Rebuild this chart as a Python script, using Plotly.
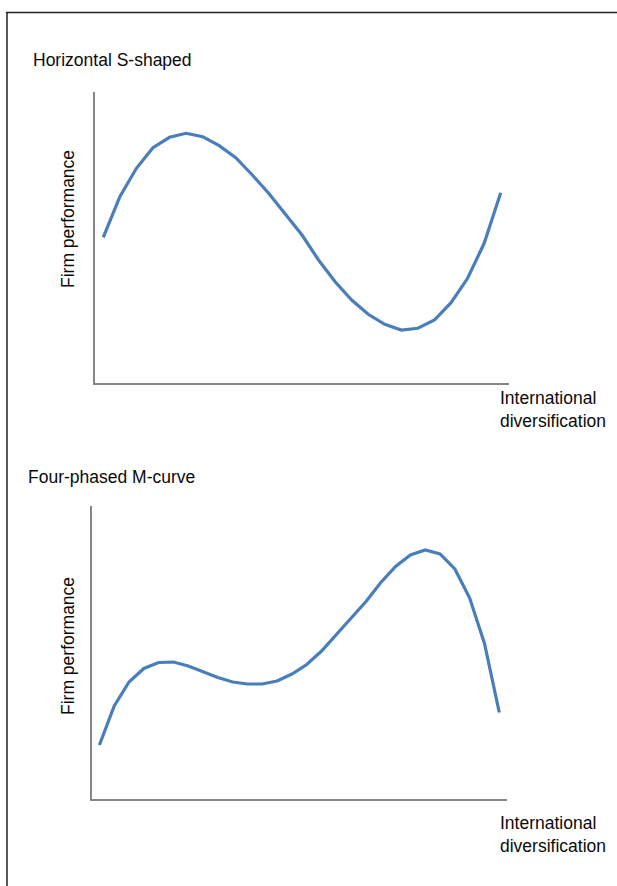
import plotly.graph_objects as go

W, H = 617, 886

# Top panel: horizontal S-shaped (arbitrary performance units)
s_x = list(range(25))
s_y = [145.7, 186.3, 214.7, 235.3, 245.7, 249.7, 246.3, 237.3, 225.3, 208.0,
       189.5, 169.0, 148.0, 123.0, 101.3, 83.0, 68.7, 58.7, 53.0, 54.7,
       63.0, 80.3, 104.7, 139.7, 190.3]

# Bottom panel: four-phased M-curve
m_x = list(range(28))
m_y = [53.5, 92.5, 116.5, 130.0, 136.0, 136.5, 132.5, 127.0, 121.0, 116.5,
       114.5, 114.5, 117.5, 124.5, 134.0, 147.5, 163.5, 180.5, 197.0, 216.0,
       232.0, 243.5, 248.5, 244.5, 229.5, 200.5, 155.0, 86.0]

titles = ["Horizontal S-shaped", "Four-phased M-curve"]
y_label = "Firm performance"
x_label = "International<br>diversification"

BLUE = "#4a7ebb"
AXIS = "#858585"
FONT = "Liberation Sans, Arial, Helvetica, sans-serif"

def px(v):
    return v / W

def py(v):
    return 1 - v / H

fig = go.Figure()
fig.add_trace(go.Scatter(x=s_x, y=s_y, mode="lines", xaxis="x", yaxis="y",
                         line=dict(color=BLUE, width=3.2), hoverinfo="skip"))
fig.add_trace(go.Scatter(x=m_x, y=m_y, mode="lines", xaxis="x2", yaxis="y2",
                         line=dict(color=BLUE, width=3.2), hoverinfo="skip"))

ax_common = dict(showline=True, linecolor=AXIS, linewidth=2, showgrid=False,
                 zeroline=False, showticklabels=False, ticks="", fixedrange=True)

fig.update_layout(
    width=W, height=H, margin=dict(l=0, r=0, t=0, b=0),
    paper_bgcolor="white", plot_bgcolor="white", showlegend=False,
    font=dict(family=FONT, size=17.5, color="#0a0a0a"),
    xaxis=dict(domain=[px(95), px(509)], range=[-0.5, 24.5], anchor="y", **ax_common),
    yaxis=dict(domain=[py(383), py(92)], range=[0, 291], anchor="x", **ax_common),
    xaxis2=dict(domain=[px(92), px(506.7)], range=[-0.5, 27.5], anchor="y2", **ax_common),
    yaxis2=dict(domain=[py(798.5), py(506)], range=[0, 292.5], anchor="x2", **ax_common),
)

ann = []
ann.append(dict(text=titles[0], x=px(31), y=py(60), xanchor="left", yanchor="middle"))
ann.append(dict(text=titles[1], x=px(26), y=py(477), xanchor="left", yanchor="middle"))
ann.append(dict(text=y_label, x=px(68), y=py(219), textangle=-90, xanchor="center", yanchor="middle"))
ann.append(dict(text=y_label, x=px(68), y=py(646), textangle=-90, xanchor="center", yanchor="middle"))
ann.append(dict(text=x_label, x=px(498), y=py(409), xanchor="left", yanchor="middle", align="left"))
ann.append(dict(text=x_label, x=px(498), y=py(834.5), xanchor="left", yanchor="middle", align="left"))
for a in ann:
    a.update(xref="paper", yref="paper", showarrow=False)
fig.update_layout(annotations=ann)

# page frame lines (top and left)
fig.add_shape(type="line", xref="paper", yref="paper", x0=px(6), x1=1.0, y0=py(12.5), y1=py(12.5),
              line=dict(color="#222222", width=1.5))
fig.add_shape(type="line", xref="paper", yref="paper", x0=px(7), x1=px(7), y0=py(12), y1=0,
              line=dict(color="#222222", width=1.5))

fig.write_html("out.html", config={"displayModeBar": False},
               post_script="document.body.style.margin='0';document.body.style.overflow='hidden';")
